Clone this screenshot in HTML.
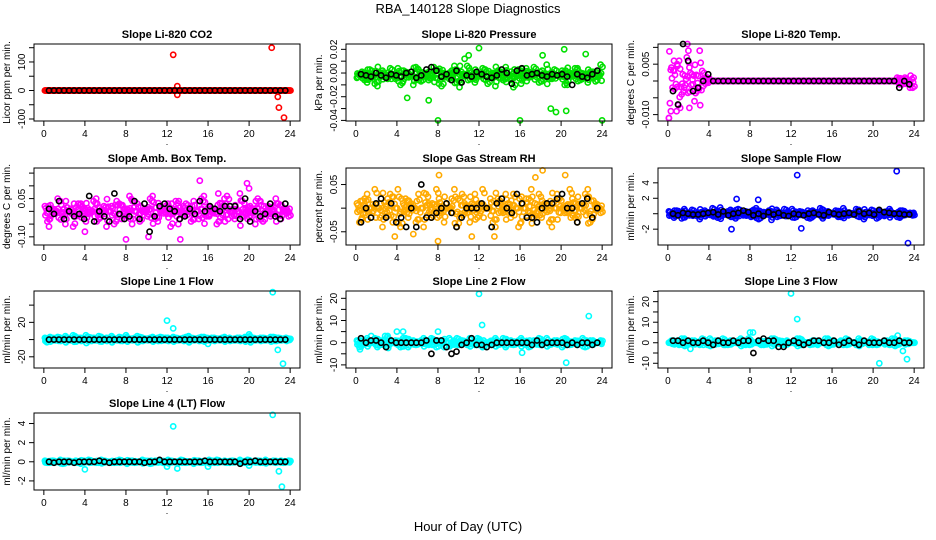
<!DOCTYPE html>
<html><head><meta charset="utf-8"><style>
body{margin:0;background:#fff}
svg{display:block;font-family:"Liberation Sans",sans-serif}
</style></head><body>
<svg id="c" width="936" height="540" viewBox="0 0 936 540">
<text x="468" y="13" font-size="13" text-anchor="middle">RBA_140128  Slope Diagnostics</text>
<text x="468" y="531" font-size="13" text-anchor="middle">Hour of Day (UTC)</text>
</svg>
<script>
// ---- data (values in panel units x scale) ----
const hourTicks=[0,4,8,12,16,20,24];
const titles=["Slope Li-820 CO2","Slope Li-820 Pressure","Slope Li-820 Temp.","Slope Amb. Box Temp.","Slope Gas Stream RH","Slope Sample Flow","Slope Line 1 Flow","Slope Line 2 Flow","Slope Line 3 Flow","Slope Line 4 (LT) Flow"];
const yTitles=["Licor ppm per min.","kPa per min.","degrees C per min.","degrees C per min.","percent per min.","ml/min per min.","ml/min per min.","ml/min per min.","ml/min per min.","ml/min per min."];
const colors=["#ff0000","#00e000","#ff00ff","#ff00ff","#ffaa00","#0000ff","#00ffff","#00ffff","#00ffff","#00ffff"];
const scales=[1,0.001,0.001,0.01,0.01,0.1,1,1,1,0.1];
const cloudCenter=[0,-2,0,0,0,0,0,0,0,0];
const yRanges=[[-107,163],[-0.0405,0.0245],[-0.0119,0.011],[-0.132,0.17],[-0.078,0.085],[-4.05,5.92],[-33,56.4],[-11.4,23.3],[-12.3,25.2],[-2.95,5.1]];
const yTickVals=[[-100,-50,0,50,100,150],[-0.04,-0.03,-0.02,-0.01,0,0.01,0.02],[-0.01,-0.005,0,0.005,0.01],[-0.1,-0.05,0,0.05,0.1,0.15],[-0.05,0,0.05],[-2,0,2,4],[-20,0,20,40],[-10,-5,0,5,10,15,20],[-10,-5,0,5,10,15,20,25],[-2,0,2,4]];
const yTickLabels=[["-100","","0","","100",""],["-0.04","","-0.02","","0.00","","0.02"],["-0.010","","","0.005",""],["-0.10","","","0.05","",""],["-0.05","","0.05"],["-2","","2","4"],["-20","","20",""],["-10","","0","","10","","20"],["-10","","0","","10","","20",""],["-2","0","2","4"]];
const Z48=[0,0,0,0,0,0,0,0,0,0,0,0,0,0,0,0,0,0,0,0,0,0,0,0,0,0,0,0,0,0,0,0,0,0,0,0,0,0,0,0,0,0,0,0,0,0,0,0];
const cloudA=[
 Z48,
 [-2,3,-6,1,-9,4,-3,0,6,-5,2,-8,5,-1,-4,7,-7,2,-3,8,-10,1,4,-6,0,5,-2,-9,3,7,-4,1,-7,6,-1,2,-5,9,-3,0,4,-8,1,6,-2,-6,3,-1],
 [-11,3,6,-2,4,-6,9,1,0,0,0,0,0,0,0,0,0,0,0,0,0,0,0,0,0,0,0,0,0,0,0,0,0,0,0,0,0,0,0,0,0,0,0,0,0,-1,1,-2],
 [2,-3,0,4,-5,1,-2,3,-4,0,5,-1,-6,2,4,-3,1,-5,3,0,-2,6,-4,1,3,-1,-5,2,0,4,-3,6,-2,1,-4,5,0,-3,7,-1,2,-5,4,0,-2,5,-3,1],
 [1,-2,3,-1,0,-4,2,-3,4,1,-2,0,3,-4,1,-1,2,-3,0,4,-2,1,-3,3,-1,0,2,-4,1,3,-2,0,-3,2,4,-1,-2,1,-4,3,0,-1,2,-3,1,4,-2,0],
 [3,-5,1,6,-2,0,-7,4,2,-3,8,-1,5,-6,0,3,-4,7,-2,1,-8,5,0,-3,6,-1,2,-5,4,0,-6,3,1,-4,7,-2,0,5,-7,2,-1,4,-3,6,0,-5,2,1],
 [2,3,1,2,4,1,3,2,5,2,1,3,2,4,1,2,3,1,4,2,1,3,2,1,2,3,1,2,4,1,2,3,1,2,1,3,2,1,2,3,4,1,2,1,3,2,1,2],
 [1,-1,2,0,-2,1,3,0,-1,2,-2,1,0,2,-1,1,0,-2,2,1,-1,0,2,-1,1,0,-1,2,0,-2,1,0,2,-1,0,1,-1,2,0,1,-2,1,0,-1,2,0,1,0],
 [0,1,-1,2,0,1,-1,0,2,1,0,-1,1,0,2,-1,1,0,-1,1,2,0,-1,1,0,2,-1,0,1,-1,0,2,1,0,-1,1,0,2,0,-1,1,0,1,-1,2,0,1,0],
 [1,-1,0,2,-1,0,1,-2,0,1,-1,2,0,-1,1,0,-2,1,0,2,-1,0,1,-1,2,0,-1,1,0,-2,1,0,2,-1,0,1,-1,0,2,-1,0,1,-1,2,0,-1,1,0]
];
const cloudB=[
 Z48,
 [1,-4,5,-7,2,-1,6,-3,-8,3,0,7,-5,2,-2,5,-9,0,4,-6,1,8,-3,-1,6,-7,2,4,-4,0,-10,5,-2,3,7,-6,1,-3,5,-1,-8,2,6,-4,0,3,-5,9],
 [4,-9,-4,7,2,-3,3,1,0,0,0,0,0,0,0,0,0,0,0,0,0,0,0,0,0,0,0,0,0,0,0,0,0,0,0,0,0,0,0,0,0,0,0,0,1,-1,0,-2],
 [-4,1,5,-2,0,-6,3,1,-1,4,-3,2,0,-5,3,-2,6,0,-4,1,5,-3,0,2,-6,4,-1,3,-4,0,5,-2,1,-5,3,6,-2,0,4,-3,1,5,-4,2,-1,3,0,-2],
 [-3,2,0,4,-2,-1,3,0,-4,2,1,-3,0,3,-2,4,-1,0,2,-4,3,-1,1,-2,4,0,-3,2,-1,1,3,-4,0,2,-2,3,1,-3,0,2,-1,4,-2,0,3,-3,1,-1],
 [-2,4,-6,0,5,-3,2,-1,7,-5,1,3,-4,6,-2,0,5,-7,2,4,-1,-3,6,0,-5,3,1,-6,2,7,-2,0,4,-4,1,-1,6,-3,0,5,-6,2,3,-1,-4,4,0,-2],
 [1,2,3,1,2,5,2,1,3,2,4,1,2,1,3,2,1,2,3,1,2,1,3,2,1,2,1,3,2,1,3,2,2,1,2,1,-1,2,1,3,2,1,2,1,3,2,1,1],
 [-2,1,0,2,-1,3,0,1,-2,2,0,-1,1,0,2,-2,1,0,-1,2,1,-1,0,2,-2,0,1,-1,2,0,-1,1,0,-2,1,2,0,-1,1,0,2,-1,1,0,-2,1,0,1],
 [1,0,2,-1,1,0,2,-1,0,1,2,-1,0,1,-1,2,0,1,-1,0,2,1,-1,0,1,2,0,-1,1,0,2,-1,0,1,2,0,-1,1,0,2,-1,0,1,2,-1,0,1,0],
 [-1,1,0,-2,1,0,-1,1,2,0,-1,1,0,-1,2,0,1,-1,0,1,-2,1,0,-1,1,0,2,-1,0,1,-1,0,1,2,0,-1,1,0,-1,2,0,1,-1,0,1,0,-1,1]
];
const blackVals=[
 Z48,
 [-1,-2,-3,0,-2,-4,-1,-2,-3,0,1,-4,-2,3,5,2,-3,-1,-6,2,-8,-2,-3,1,-1,-3,-4,-2,3,0,-9,2,4,-2,-1,0,-2,-3,-1,-2,-1,-3,-10,-1,-3,-4,-1,2],
 [-3,-7,11,6,-3,-2,0,2,0,0,0,0,0,0,0,0,0,0,0,0,0,0,0,0,0,0,0,0,0,0,0,0,0,0,0,0,0,0,0,0,0,0,0,0,0,-2,0,-1],
 [1,-1,4,-3,0,-2,-1,-3,6,-4,0,-2,-4,7,-1,-3,-2,4,-3,3,-8,-2,2,3,1,0,-3,-2,1,-1,4,0,2,1,0,2,2,2,-3,5,-4,0,-2,-1,3,-2,-3,3],
 [-3,0,-2,1,2,-2,1,-3,-2,-4,0,-4,5,-2,-2,-1,0,1,-1,-4,-2,0,0,0,1,0,-4,1,2,0,-1,3,1,-2,-2,-3,0,1,1,2,3,0,0,-3,1,2,-2,0],
 [0,-2,1,0,-1,-1,0,1,2,-1,3,-2,0,1,4,2,-2,0,-3,2,-1,1,-2,-3,0,-1,-2,0,1,-1,-2,2,0,-1,0,1,-1,3,0,1,-1,5,2,1,0,0,-1,-1],
 Z48,
 [2,0,1,1,0,-2,1,0,0,0,0,0,0,1,-5,1,1,-2,-5,-4,-1,0,2,-1,-1,-2,-1,0,0,0,0,0,0,0,-1,1,-1,0,0,0,0,-1,0,-1,0,0,-1,0],
 [1,1,0,1,0,0,1,0,-1,1,0,0,1,0,1,1,-5,1,2,1,1,-2,-2,0,1,0,-1,0,1,1,0,0,1,-1,0,1,0,-1,1,0,0,0,1,0,0,1,0,0],
 [0,-1,0,0,0,-1,0,0,0,0,1,0,-1,0,0,0,0,0,0,-1,0,0,2,0,0,0,0,0,0,0,0,1,0,0,0,0,0,0,-2,0,0,1,0,0,0,0,0,0]
];
const outX=[[12.6,13,13,22.2,22.8,22.9,23.4],[5,7.1,8,16,24,11,12,20.3,19.5,19,20.5,18.2,10.6,22.4],[1.9,2,0.1,0.3,2.1,1.2,0.6,0.9],[15.2,19.8,8,0.5,13.3,4,10.2,17,20],[18.2,8.1,20.4,8,3.8,11.3,5.6,13.5,17.5],[12.6,22.3,23.4,13,6.2,6.7,8.8],[12,12.6,22.3,22.8,23.3,16,20,8,0.3],[12,12.3,22.7,20.5,16.2,0.4,4.6,4,8,1.5],[12,12.6,8,8.3,20.6,23.3,22.9,22.4,2.2],[12.6,22.3,23.2,22.9,4,12,13,16,20]];
const outY=[[125,15,-15,150,-22,-60,-95],[-21,-23,-40,-40,-40,15,21,20,-33,-30,-32,15,12,16],[11,9,-11,-9,-8,-8,6,5],[12,11,-11,-6,-11,-8,-10,7,9],[8,7,7,-7,-6,-6,-5.5,-6,6.5],[50,55,-38,-19,-20,19,18],[22,13,55,-12,-28,-5,6,5,-3],[22,8,12,-9,-4.5,-3,5,5,5,3],[24,11.5,5,5,-10,-8,-4,3.5,-3],[37,49,-26,-10,-8,-5,-7,-5,-4]];

// ---- layout ----
const NS="http://www.w3.org/2000/svg";
const svg=document.getElementById('c');
const colL=[34,346,658], colW=266;
const rowT=[44,168,291,413], rowH=77;
function mk(tag,attrs,parent){const e=document.createElementNS(NS,tag);for(const k in attrs)e.setAttribute(k,attrs[k]);(parent||svg).appendChild(e);return e;}
for(let p=0;p<10;p++){
  const L=colL[p%3], T=rowT[Math.floor(p/3)], R=L+colW, B=T+rowH;
  const g=mk('g',{});
  
  
  const xs=h=>L+(h+0.96)/25.92*colW;
  const [y0,y1]=yRanges[p];
  const ys=v=>B-(v-y0)/(y1-y0)*rowH;
  const sc=scales[p], cc=cloudCenter[p];
  const t=mk('text',{x:(L+R)/2,y:T-6,'font-size':11,'font-weight':'bold','text-anchor':'middle'},g);
  t.textContent=titles[p];
  
  
  const pts=mk('g',{fill:'none','stroke-width':1.6},g);
  
  
  const dot=(h,v,col)=>{const c=mk('circle',{cx:xs(h).toFixed(1),cy:ys(v).toFixed(1),r:2.6,stroke:col},pts);
    
    };
  const col=colors[p];
  cloudA[p].forEach((v,i)=>{dot(0.1+i*0.5,(cc+v)*sc,col);dot(0.2+i*0.5,(cc+0.6*v)*sc,col);dot(0.28+i*0.5,(cc-0.3*v)*sc,col);dot(0.15+i*0.5,(cc-0.8*v)*sc,col);});
  cloudB[p].forEach((v,i)=>{dot(0.35+i*0.5,(cc+v)*sc,col);dot(0.45+i*0.5,(cc-0.5*v)*sc,col);dot(0.53+i*0.5,(cc+0.8*v)*sc,col);dot(0.4+i*0.5,(cc+0.2*v)*sc,col);});
  outX[p].forEach((h,i)=>dot(h,outY[p][i]*sc,col));
  blackVals[p].forEach((v,i)=>dot(0.5+i*0.49,v*sc,'#000'));
  const bx=mk('rect',{x:L,y:T,width:colW,height:rowH,fill:'none',stroke:'#000','stroke-width':1},g);
  
  
  hourTicks.forEach(h=>{const x=xs(h);mk('line',{x1:x,y1:B,x2:x,y2:B+5,stroke:'#000'},g);
    const tl=mk('text',{x:x,y:B+16,'font-size':10,'text-anchor':'middle'},g);tl.textContent=h;
    
    });
  mk('text',{x:xs(12),y:B+24,'font-size':9,'text-anchor':'middle'},g).textContent='.';
  yTickVals[p].forEach((v,i)=>{const y=ys(v);if(y<T-1||y>B+1)return;
    mk('line',{x1:L-5,y1:y,x2:L,y2:y,stroke:'#000'},g);
    if(yTickLabels[p][i]){const tl=mk('text',{x:0,y:0,'font-size':10,'text-anchor':'middle',transform:`translate(${L-9},${y}) rotate(-90)`},g);tl.textContent=yTickLabels[p][i];
      
      }});
  const yt=mk('text',{x:0,y:0,'font-size':10,'text-anchor':'middle',transform:`translate(${L-24},${(T+B)/2}) rotate(-90)`},g);
  yt.textContent=yTitles[p];
  
  
}
</script>
</body></html>
